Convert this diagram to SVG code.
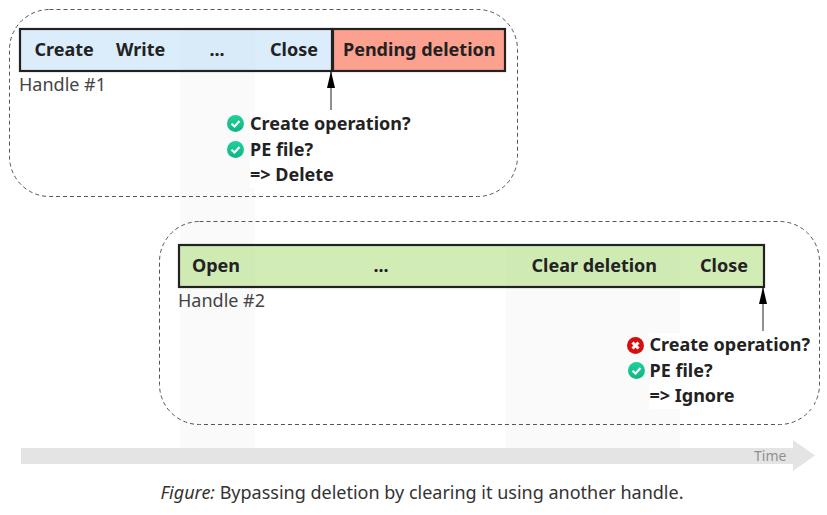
<svg xmlns="http://www.w3.org/2000/svg" width="827" height="515" viewBox="0 0 827 515">
<style>
text{font-family:"Noto Sans","Open Sans",sans-serif;fill:#222}
.b{font-weight:700;font-size:18px}
.h{font-size:18px;fill:#444}
.bar{stroke:#222;stroke-width:2.2}
.dash{fill:none;stroke:#555;stroke-width:1;stroke-dasharray:4 3}
.band{fill:#fafafa}
.mask{fill:#fff}
.ov{fill:#808080;fill-opacity:.02}
.conn{stroke:#555;stroke-width:1.3;fill:none;marker-end:url(#ah)}
</style>
<defs>
<marker id="ah" markerUnits="userSpaceOnUse" markerWidth="17" markerHeight="9" refX="16" refY="4.500" orient="auto" viewBox="0 0 17 9"><path d="M17 4.500L0 8.500V0.500Z" fill="#000"/></marker>
<linearGradient id="g" x1="0" y1="0" x2="0" y2="1"><stop offset="0" stop-color="#1fd19a"/><stop offset="1" stop-color="#0fb585"/></linearGradient>
<symbol id="ok" viewBox="0 0 17 17" overflow="visible"><circle cx="8.500" cy="8.500" r="8.500" fill="url(#g)"/><path d="M4.500 8.700L7.500 11.500L12.500 6" fill="none" stroke="#fff" stroke-width="2.2"/></symbol>
<symbol id="no" viewBox="0 0 17 17" overflow="visible"><circle cx="8.500" cy="8.500" r="8.500" fill="#d40f0f"/><path d="M5.500 5.500L11.500 11.500M11.500 5.500L5.500 11.500" fill="none" stroke="#fff" stroke-width="3"/></symbol>
</defs>
<rect width="827" height="515" fill="#fff"/>
<g id="bands">
<rect class="band" x="180" y="29" width="75" height="421"/>
<rect class="band" x="506" y="245" width="174" height="205"/>
</g>
<g id="group-1"><rect class="dash" x="9.500" y="9.500" width="508" height="187" rx="40" ry="40"/></g>
<g id="group-2"><rect class="dash" x="159.500" y="221.500" width="660" height="203" rx="40" ry="40"/></g>
<g id="handle-1">
<rect class="bar" x="20" y="29" width="312" height="42" fill="#dbedfa"/>
<rect class="ov" x="180" y="30" width="75" height="40"/>
<text class="b" x="34.500" y="56">Create</text>
<text class="b" x="116" y="56">Write</text>
<text class="b" x="209.500" y="56">...</text>
<text class="b" x="270" y="56">Close</text>
<text class="h" x="19" y="91">Handle #1</text>
</g>
<g id="pending"><rect class="bar" x="333" y="29" width="172" height="42" fill="#fca08f"/>
<text class="b" x="343" y="56">Pending deletion</text></g>
<g id="handle-2">
<rect class="bar" x="179" y="245" width="585" height="42" fill="#d2ecb5"/>
<rect class="ov" x="180" y="246" width="75" height="40"/>
<rect class="ov" x="506" y="246" width="174" height="40"/>
<text class="b" x="192" y="272">Open</text>
<text class="b" x="373.500" y="272">...</text>
<text class="b" x="531.500" y="272">Clear deletion</text>
<text class="b" x="700" y="272">Close</text>
<text class="h" x="178" y="307">Handle #2</text>
</g>
<g id="note-1">
<rect class="mask" x="250" y="112" width="165" height="76"/>
<use href="#ok" x="227" y="115" width="17" height="17"/>
<use href="#ok" x="227" y="141" width="17" height="17"/>
<text class="b" x="250" y="130">Create operation?</text>
<text class="b" x="250" y="156">PE file?</text>
<text class="b" x="250" y="181">=&gt; Delete</text>
</g>
<g id="note-2">
<rect class="mask" x="649" y="333" width="165" height="76"/>
<use href="#no" x="627" y="337" width="17" height="17"/>
<use href="#ok" x="628" y="362" width="17" height="17"/>
<text class="b" x="649.500" y="351">Create operation?</text>
<text class="b" x="649.500" y="377">PE file?</text>
<text class="b" x="649.500" y="402">=&gt; Ignore</text>
</g>
<g id="connectors">
<path class="conn" d="M331 110V72"/>
<path class="conn" d="M763 331V288"/>
</g>
<g id="time">
<path d="M21 448H793V440L815 455.500L793 471V464H21Z" fill="#e4e4e4"/>
<text x="754" y="461" style="font-size:14px;fill:#909090">Time</text>
</g>
<text id="caption" x="160.500" y="499" style="font-size:18px;fill:#333"><tspan font-style="italic">Figure:</tspan> Bypassing deletion by clearing it using another handle.</text>
</svg>
